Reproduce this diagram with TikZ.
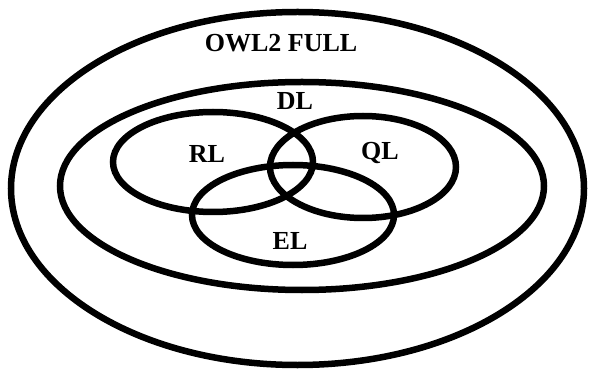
\documentclass[tikz,border=0pt]{standalone}
\usepackage{fontspec}
\setmainfont{Liberation Serif}
\begin{document}
\begin{tikzpicture}[x=1pt, y=-1pt, line width=6.5pt,
    setlabel/.style={font=\fontsize{26}{30}\selectfont\bfseries, anchor=base, inner sep=0pt}]
  \useasboundingbox (0,0) rectangle (591,371);
  % outer language and the DL profile
  \draw (297.5,188.5) ellipse [x radius=286.5, y radius=176.5];
  \draw (302,186) ellipse [x radius=242, y radius=104];
  % the three profiles
  \foreach \cx/\cy/\rx/\ry in {213/162/100/50, 363/167/93/51, 293/215/101/50}
    \draw (\cx,\cy) ellipse [x radius=\rx, y radius=\ry];

  \node[setlabel] (full) at (281,52) {OWL2 FULL};
  \node[setlabel] (dl) at (295,110) {DL};
  \node[setlabel] (rl) at (207,163) {RL};
  \node[setlabel] (ql) at (380,160) {QL};
  \node[setlabel] (el) at (290,250) {EL};
\end{tikzpicture}
\end{document}
